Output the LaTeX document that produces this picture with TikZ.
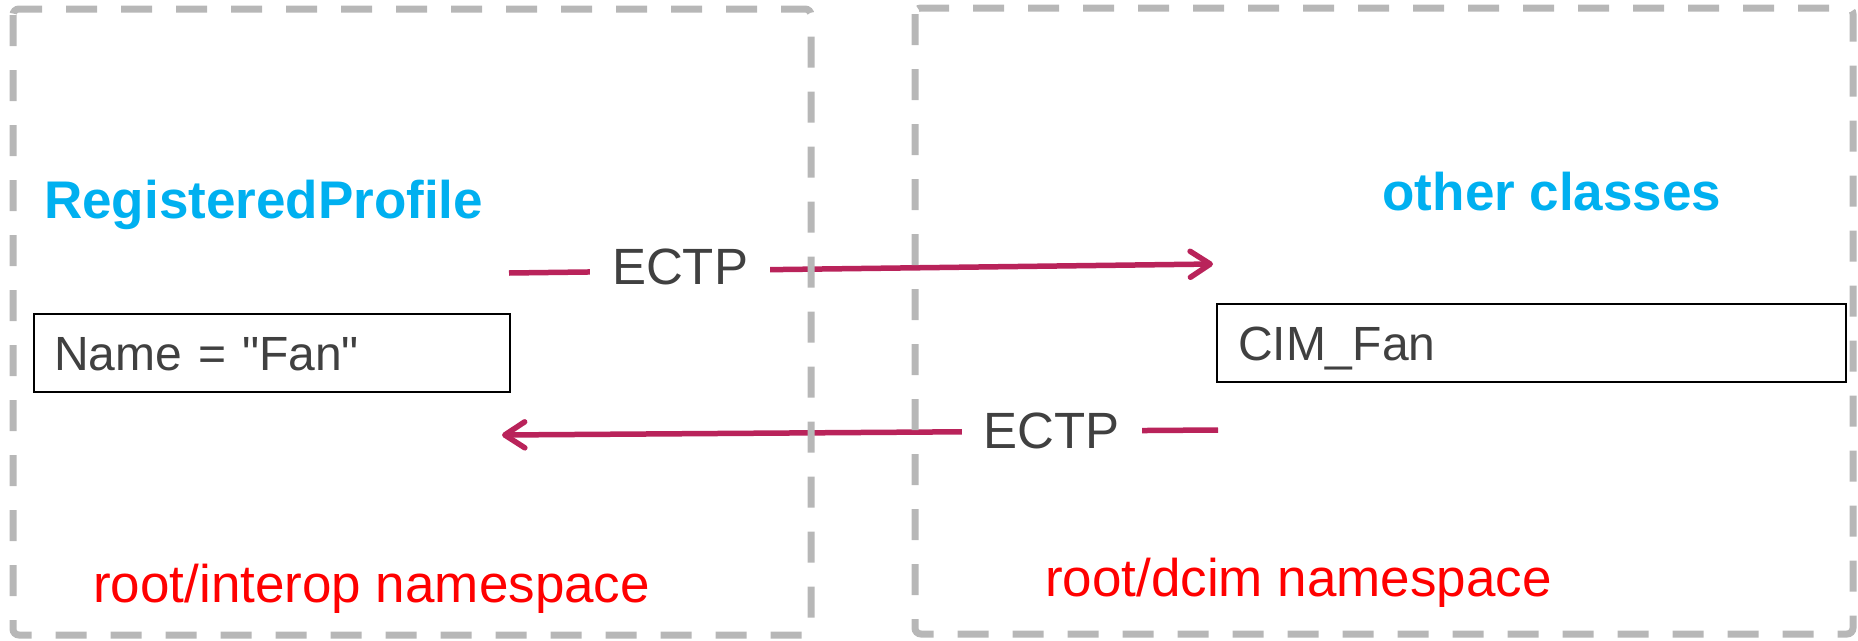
\documentclass[tikz,border=0pt]{standalone}
\usepackage{fontspec}
\setmainfont{Liberation Sans}[Ligatures=TeXOff]
\usetikzlibrary{arrows.meta}
\definecolor{ectpred}{RGB}{185,35,90}
\definecolor{dashgray}{RGB}{183,183,183}
\definecolor{titleblue}{RGB}{0,176,240}
\definecolor{nsred}{RGB}{255,0,0}
\definecolor{textgray}{RGB}{64,64,64}
\tikzset{
  nsbox/.style={draw=dashgray, line width=7pt, dash pattern=on 31pt off 24pt, rounded corners=6pt},
  titletext/.style={text=titleblue, inner sep=0pt, font=\fontsize{53pt}{60pt}\selectfont\bfseries},
  nstext/.style={text=nsred, inner sep=0pt, font=\fontsize{53pt}{60pt}\selectfont},
  classbox/.style={draw=black, line width=2pt, anchor=north west, minimum height=78pt, align=left,
    text=textgray, text height=34pt, text depth=0pt, inner ysep=0pt,
    font=\fontsize{48pt}{56pt}\selectfont},
  ectpline/.style={draw=ectpred, line width=5.5pt, -{Straight Barb[length=20pt,width=26pt,round]}},
  ectplabel/.style={fill=white, inner xsep=22pt, inner ysep=2pt, text=textgray,
    font=\fontsize{51pt}{58pt}\selectfont}
}
\begin{document}
\begin{tikzpicture}[x=1pt,y=-1pt]
\useasboundingbox (0,0) rectangle (1858,640);

% class boxes and titles
\node[titletext, anchor=base west] (regprof) at (44,218) {RegisteredProfile};
\node[titletext, anchor=base] (other) at (1552,210) {other classes};
\node[classbox, inner xsep=20pt, text width=436pt] (namebox) at (33,313) {Name = "Fan"};
\node[classbox, inner xsep=21pt, text width=587pt] (cimbox) at (1216,303) {CIM\_Fan};

% connectors
\coordinate (u1) at (509,273);
\coordinate (u2) at (1213,264);
\coordinate (l1) at (1218,430);
\coordinate (l2) at (502,435);
\draw[ectpline] (u1) -- node[ectplabel, pos=0.243, yshift=4pt] (ectp1) {ECTP} (u2);
\draw[ectpline] (l1) -- node[ectplabel, pos=0.232] (ectp2) {ECTP} (l2);

% namespace boxes
\draw[nsbox] (13,9) rectangle (811,635);
\draw[nsbox] (915,8) rectangle (1853,634);

\node[nstext, anchor=base west] (ns1) at (93,602) {root/interop namespace};
\node[nstext, anchor=base west] (ns2) at (1045,596) {root/dcim namespace};
\end{tikzpicture}
\end{document}
